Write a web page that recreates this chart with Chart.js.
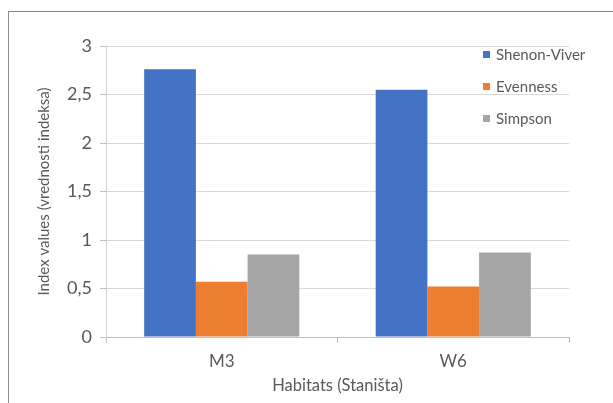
<!DOCTYPE html>
<html>
<head>
<meta charset="utf-8">
<script src="https://cdn.jsdelivr.net/npm/chart.js@4"></script>
<style>
  html, body { margin: 0; padding: 0; background: #fff; }
  #wrap { position: relative; width: 613px; height: 403px; overflow: hidden; }
  #frame { position: absolute; left: 8px; top: 11px; width: 700px; height: 500px; border: 1px solid #8c8c8c; }
  canvas { position: absolute; left: 0; top: 0; }
</style>
</head>
<body>
<div id="wrap">
  <div id="frame"></div>
  <canvas id="chart" width="613" height="403"></canvas>
</div>
<script>
// data
const categories = ['M3', 'W6'];
const shenonViver = [2.76, 2.55];
const evenness = [0.57, 0.52];
const simpson = [0.85, 0.87];
const yMax = 3;
const yStep = 0.5;
const yTitle = 'Index values (vrednosti indeksa)';

const textColor = '#595959';
const fontFamily = 'Lato, "Open Sans", sans-serif';

// legend drawn on top of the plot area, and the y title centred on the plot
const overlayLegend = {
  id: 'overlayLegend',
  afterDraw(chart) {
    const ctx = chart.ctx;
    const area = chart.chartArea;
    ctx.save();
    ctx.font = '15px ' + fontFamily;
    ctx.textBaseline = 'middle';
    chart.data.datasets.forEach((ds, i) => {
      const x = area.right - 86;
      const y = area.top + 9 + i * 32;
      ctx.fillStyle = ds.backgroundColor;
      ctx.fillRect(x, y - 4, 7, 7);
      ctx.fillStyle = textColor;
      ctx.fillText(ds.label, x + 13, y);
    });
    ctx.restore();

    ctx.save();
    ctx.font = '15px ' + fontFamily;
    ctx.fillStyle = textColor;
    ctx.textAlign = 'center';
    ctx.textBaseline = 'middle';
    ctx.translate(area.left - 62, (area.top + area.bottom) / 2);
    ctx.rotate(-Math.PI / 2);
    ctx.fillText(yTitle, 0, 0);
    ctx.restore();
  }
};

new Chart(document.getElementById('chart'), {
  type: 'bar',
  data: {
    labels: categories,
    datasets: [
      { label: 'Shenon-Viver', data: shenonViver, backgroundColor: '#4472C4' },
      { label: 'Evenness', data: evenness, backgroundColor: '#ED7D31' },
      { label: 'Simpson', data: simpson, backgroundColor: '#A5A5A5' }
    ]
  },
  options: {
    responsive: false,
    animation: false,
    layout: { padding: { top: 46, right: 44, left: 0, bottom: 0 } },
    datasets: {
      bar: { categoryPercentage: 0.67, barPercentage: 1.0 }
    },
    plugins: {
      legend: { display: false },
      tooltip: { enabled: false }
    },
    scales: {
      x: {
        afterFit: (scale) => { scale.height = 66; },
        grid: {
          offset: true,
          drawOnChartArea: false,
          drawTicks: true,
          tickLength: 6,
          color: '#bfbfbf'
        },
        border: { display: true, color: '#bfbfbf' },
        ticks: {
          color: textColor,
          padding: 8,
          font: { family: fontFamily, size: 17 }
        },
        title: {
          display: true,
          text: 'Habitats (Staništa)',
          color: textColor,
          padding: { top: 0, bottom: 7 },
          font: { family: fontFamily, size: 16.5 }
        }
      },
      y: {
        min: 0,
        max: yMax,
        afterFit: (scale) => { scale.width = 106; },
        grid: {
          color: '#d9d9d9',
          drawTicks: true,
          tickLength: 6,
          tickColor: '#bfbfbf'
        },
        border: { display: true, color: '#d0d0d0' },
        ticks: {
          stepSize: yStep,
          color: textColor,
          padding: 8,
          font: { family: fontFamily, size: 18 },
          callback: (v) => String(v).replace('.', ',')
        }
      }
    }
  },
  plugins: [overlayLegend]
});
</script>
</body>
</html>
